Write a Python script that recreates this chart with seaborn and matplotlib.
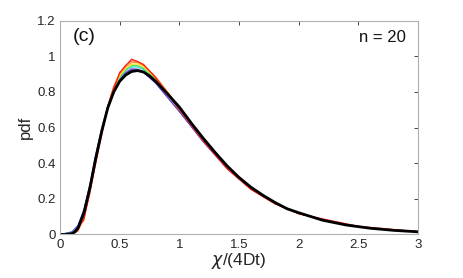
import numpy as np
import pandas as pd
import matplotlib
matplotlib.use("Agg")
import matplotlib.pyplot as plt
import seaborn as sns

# black reference curve
x_ref = [0, 0.05, 0.1, 0.126, 0.15, 0.2, 0.25, 0.3, 0.35, 0.4, 0.45, 0.5, 0.55, 0.6, 0.65,
         0.7, 0.75, 0.8, 0.9, 1.0, 1.1, 1.2, 1.3, 1.4, 1.5, 1.6, 1.7, 1.8, 1.9, 2.0,
         2.2, 2.4, 2.6, 2.8, 3.0]
y_ref = [0, 0.0, 0.005, 0.015, 0.035, 0.12, 0.26, 0.43, 0.58, 0.71, 0.80, 0.86, 0.895, 0.915, 0.92,
         0.912, 0.89, 0.86, 0.79, 0.715, 0.625, 0.54, 0.46, 0.385, 0.32, 0.265, 0.22, 0.18, 0.145, 0.122,
         0.08, 0.053, 0.035, 0.023, 0.015]

# coloured simulation curves
x_sim = [0, 0.1, 0.15, 0.2, 0.25, 0.3, 0.35, 0.4, 0.45, 0.5, 0.55, 0.6, 0.65, 0.7, 0.8, 0.9,
         1.0, 1.1, 1.2, 1.4, 1.6, 1.8, 2.0, 2.3, 2.6, 3.0]
y_blue = [0, 0.015, 0.05, 0.14, 0.28, 0.45, 0.60, 0.72, 0.81, 0.87, 0.905, 0.925, 0.925, 0.91, 0.85, 0.77,
          0.69, 0.605, 0.52, 0.37, 0.255, 0.175, 0.118, 0.065, 0.036, 0.016]
y_purple = [0, 0.012, 0.045, 0.13, 0.27, 0.44, 0.59, 0.715, 0.81, 0.87, 0.91, 0.93, 0.928, 0.912, 0.852, 0.772,
            0.69, 0.607, 0.522, 0.37, 0.256, 0.175, 0.118, 0.065, 0.036, 0.016]
y_cyan = [0, 0.01, 0.04, 0.125, 0.265, 0.44, 0.59, 0.72, 0.815, 0.88, 0.92, 0.94, 0.94, 0.925, 0.865, 0.785,
          0.70, 0.615, 0.53, 0.375, 0.258, 0.177, 0.12, 0.066, 0.036, 0.016]
y_green = [0, 0.008, 0.035, 0.12, 0.26, 0.435, 0.59, 0.72, 0.82, 0.885, 0.925, 0.948, 0.948, 0.932, 0.872, 0.792,
           0.705, 0.62, 0.533, 0.377, 0.26, 0.178, 0.12, 0.066, 0.036, 0.016]
y_yellow = [0, 0.006, 0.03, 0.11, 0.25, 0.43, 0.59, 0.72, 0.825, 0.89, 0.93, 0.955, 0.957, 0.94, 0.88, 0.8,
            0.71, 0.622, 0.535, 0.378, 0.26, 0.178, 0.12, 0.066, 0.036, 0.016]
y_orange = [0, 0.004, 0.025, 0.1, 0.24, 0.42, 0.585, 0.72, 0.83, 0.9, 0.94, 0.965, 0.965, 0.948, 0.885, 0.8,
            0.71, 0.62, 0.532, 0.375, 0.258, 0.176, 0.118, 0.065, 0.035, 0.016]
y_red = [0, 0.003, 0.02, 0.09, 0.23, 0.41, 0.58, 0.72, 0.83, 0.905, 0.95, 0.975, 0.972, 0.952, 0.885, 0.798,
         0.707, 0.617, 0.53, 0.372, 0.255, 0.174, 0.117, 0.064, 0.035, 0.016]
x_coarse = [0, 0.1, 0.2, 0.3, 0.4, 0.5, 0.6, 0.7, 0.8, 0.9, 1.0, 1.2, 1.4, 1.6, 1.8, 2.0, 2.5, 3.0]
y_coarse = [0, 0.003, 0.08, 0.40, 0.72, 0.91, 0.985, 0.955, 0.88, 0.79, 0.70, 0.525, 0.368, 0.252, 0.172, 0.116, 0.046, 0.016]

sim_colors = ["#1f3cff", "#8a3fb0", "#22d3e0", "#3fdc4a", "#f2e02a", "#ff9a1a", "#ff3b1a"]
sim_series = [y_blue, y_purple, y_cyan, y_green, y_yellow, y_orange, y_red]

sns.set_style("white")
plt.rcParams['font.family'] = ['Liberation Sans', 'DejaVu Sans']
plt.rcParams['mathtext.fontset'] = 'dejavusans'

fig = plt.figure(figsize=(4.63, 2.78), dpi=100)
ax = fig.add_axes([0.1296, 0.1565, 0.7735, 0.769])

for ys, c in zip(sim_series, sim_colors):
    sns.lineplot(x=x_sim, y=ys, color=c, linewidth=0.8, ax=ax)
sns.lineplot(x=x_coarse, y=y_coarse, color="#ff2010", linewidth=0.8, ax=ax)
sns.lineplot(x=x_ref, y=y_ref, color="black", linewidth=2.0, ax=ax)

ax.set_xlim(0, 3)
ax.set_ylim(0, 1.2)
ax.set_xticks([0, 0.5, 1, 1.5, 2, 2.5, 3])
ax.set_xticklabels(["0", "0.5", "1", "1.5", "2", "2.5", "3"])
ax.set_yticks([0, 0.2, 0.4, 0.6, 0.8, 1, 1.2])
ax.set_yticklabels(["0", "0.2", "0.4", "0.6", "0.8", "1", "1.2"])
ax.tick_params(direction="in", length=3, width=0.6, color="#262626", labelsize=9.5,
               labelcolor="#262626", top=True, right=True, pad=3)
for s in ax.spines.values():
    s.set_color("#b0b0b0")
    s.set_linewidth(0.8)

ax.set_xlabel(r"$\chi$/(4Dt)", fontsize=12.5, color="#262626", labelpad=0)
ax.set_ylabel("pdf", fontsize=12, color="#262626", labelpad=3)
ax.text(0.035, 0.965, "(c)", transform=ax.transAxes, fontsize=14, va="top", ha="left", color="#111111")
ax.text(0.965, 0.955, "n = 20", transform=ax.transAxes, fontsize=12, va="top", ha="right", color="#111111")

fig.savefig("out.png", dpi=100)
